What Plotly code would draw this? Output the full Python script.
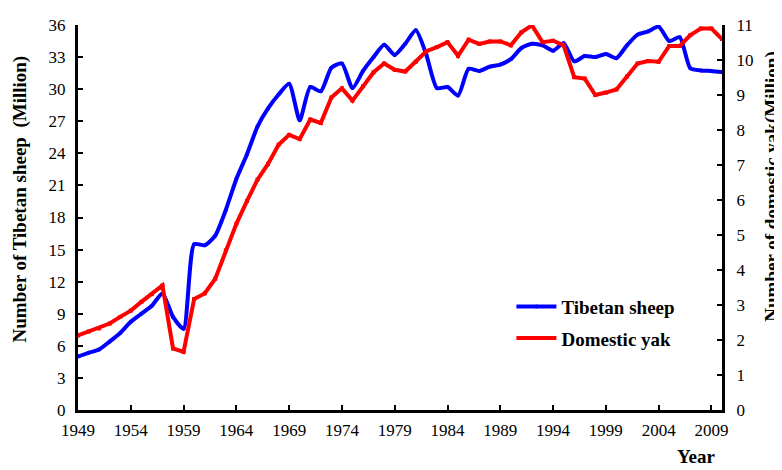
import plotly.graph_objects as go

years = list(range(1949, 2011))

tibetan_sheep = [5.0, 5.35, 5.65, 6.4, 7.2, 8.25, 9.0, 9.75, 10.9, 8.7,
                 7.6, 15.5, 15.4, 16.3, 18.7, 21.6, 23.9, 26.5, 28.2, 29.5,
                 30.5, 27.1, 30.2, 29.8, 32.0, 32.4, 30.1, 31.7, 33.0, 34.15,
                 33.2, 34.25, 35.5, 33.2, 30.1, 30.2, 29.4, 31.9, 31.7, 32.1,
                 32.3, 32.8, 33.85, 34.25, 34.1, 33.6, 34.3, 32.6, 33.1, 33.0,
                 33.3, 32.9, 34.1, 35.1, 35.4, 35.85, 34.5, 34.85, 31.95, 31.75,
                 31.7, 31.6]

domestic_yak = [2.13, 2.24, 2.33, 2.47, 2.66, 2.84, 3.09, 3.31, 3.56, 1.76,
                1.66, 3.17, 3.33, 3.75, 4.56, 5.32, 5.97, 6.58, 7.03, 7.58,
                7.86, 7.74, 8.3, 8.2, 8.93, 9.19, 8.84, 9.25, 9.65, 9.9,
                9.72, 9.67, 9.95, 10.25, 10.37, 10.51, 10.12, 10.58, 10.46, 10.53,
                10.53, 10.42, 10.79, 10.99, 10.51, 10.55, 10.42, 9.51, 9.47, 9.0,
                9.07, 9.16, 9.53, 9.9, 9.97, 9.95, 10.4, 10.4, 10.71, 10.9,
                10.9, 10.6]

x_ticks = list(range(1949, 2010, 5))
left_ticks = list(range(0, 37, 3))
right_ticks = list(range(0, 12, 1))

FONT = "Times New Roman, Liberation Serif, serif"

fig = go.Figure()
fig.add_trace(go.Scatter(
    x=years, y=tibetan_sheep, name="Tibetan sheep", mode="lines+markers",
    legendgroup="a",
    line=dict(color="#0000FF", width=4, shape="spline", smoothing=0.6),
    marker=dict(color="#0000FF", size=4, symbol="circle"),
    yaxis="y"))
fig.add_trace(go.Scatter(
    x=years, y=domestic_yak, name="Domestic yak", mode="lines+markers",
    legendgroup="b",
    line=dict(color="#FF0000", width=4),
    marker=dict(color="#FF0000", size=4, symbol="square"),
    yaxis="y2"))

axis_common = dict(showline=True, linecolor="black", linewidth=3,
                   ticks="inside", ticklen=5, tickwidth=2, tickcolor="black",
                   showgrid=False, zeroline=False, ticklabeloverflow="allow",
                   tickfont=dict(family=FONT, size=17, color="black"))

fig.update_layout(
    width=774, height=462,
    margin=dict(l=70, r=60, t=8, b=60),
    paper_bgcolor="white", plot_bgcolor="white",
    font=dict(family=FONT, color="black"),
    xaxis=dict(range=[1949, 2010], tickvals=x_ticks, ticktext=[str(v) for v in x_ticks],
               ticklabelstandoff=3, **axis_common),
    yaxis=dict(range=[0, 36], tickvals=left_ticks, ticklabelstandoff=6, **axis_common),
    yaxis2=dict(range=[0, 11], tickvals=right_ticks, overlaying="y", side="right",
                ticklabelstandoff=8, **axis_common),
    showlegend=True,
    legend=dict(x=0.673, y=0.318, xanchor="left", yanchor="top",
                bgcolor="rgba(0,0,0,0)",
                font=dict(family=FONT, size=19, color="black", weight="bold"),
                tracegroupgap=4, itemwidth=40),
    annotations=[
        dict(text="<b>Number of Tibetan sheep  (Million)</b>", textangle=-90,
             xref="paper", yref="paper", x=-0.090, y=0.547, xanchor="center", yanchor="middle",
             showarrow=False, font=dict(family=FONT, size=19, color="black")),
        dict(text="<b>Number of domestic yak(Million)</b>", textangle=-90,
             xref="paper", yref="paper", x=1.077, y=0.579, xanchor="center", yanchor="middle",
             showarrow=False, font=dict(family=FONT, size=19, color="black")),
        dict(text="<b>Year</b>", xref="paper", yref="paper", x=0.961, y=-0.122,
             xanchor="center", yanchor="middle", showarrow=False,
             font=dict(family=FONT, size=19, color="black")),
    ],
)

fig.write_html("out.html")
